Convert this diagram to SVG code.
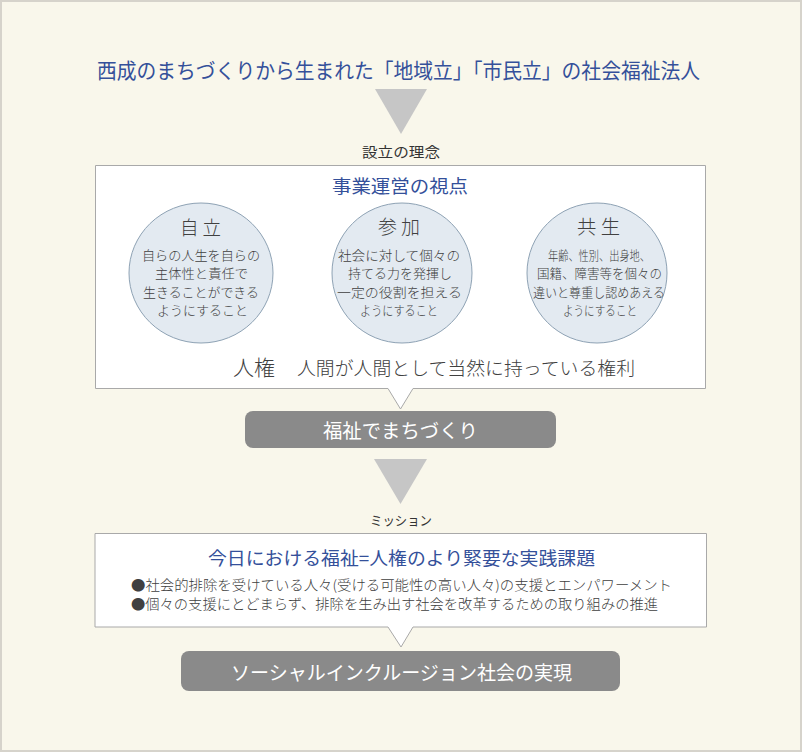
<svg xmlns="http://www.w3.org/2000/svg" width="802" height="752" viewBox="0 0 802 752">
<style>
text{font-family:"Noto Sans CJK JP","Noto Sans",sans-serif;font-weight:300;}
.blue{fill:#34509a;font-weight:400;}
.dark{fill:#404040;}
.label{fill:#333333;font-weight:400;}
.white{fill:#ffffff;font-weight:400;}
.tri{fill:#c6c6c6;}
.box{fill:#ffffff;stroke:#a9a9a9;stroke-width:1;}
.pill{fill:#8a8a8a;}
.circ{fill:#e3eaf1;stroke:#8ea2b4;stroke-width:1;}
</style>
<rect x="1" y="1" width="800" height="750" fill="#f9f7eb" stroke="#d6d3cb" stroke-width="2"/>

<g id="title">
<text class="blue" x="97" y="78" font-size="21" textLength="603" lengthAdjust="spacingAndGlyphs">西成のまちづくりから生まれた「地域立」「市民立」の社会福祉法人</text>
</g>

<g id="connectors">
<polygon class="tri" points="375,89 427,89 401,134"/>
<polygon class="tri" points="374,459 427,459 400.5,504"/>
</g>

<g id="label-setsuritsu">
<text class="label" x="362" y="157" font-size="14" textLength="78" lengthAdjust="spacingAndGlyphs">設立の理念</text>
</g>

<g id="philosophy">
<path class="box" d="M95.5,165.5 H705.5 V388.5 H413 L400.5,409 L388,388.5 H95.5 Z"/>
<text class="blue" x="332" y="193" font-size="18" textLength="136" lengthAdjust="spacingAndGlyphs">事業運営の視点</text>
</g>

<g id="jiritsu">
<ellipse class="circ" cx="201" cy="273" rx="72" ry="70"/>
<text class="dark" x="180" y="235" font-size="19" textLength="41" lengthAdjust="spacingAndGlyphs">自 立</text>
<text class="dark" x="142" y="260" font-size="13" textLength="118" lengthAdjust="spacingAndGlyphs">自らの人生を自らの</text>
<text class="dark" x="155" y="278" font-size="13" textLength="93" lengthAdjust="spacingAndGlyphs">主体性と責任で</text>
<text class="dark" x="143" y="297" font-size="13" textLength="116" lengthAdjust="spacingAndGlyphs">生きることができる</text>
<text class="dark" x="157" y="315" font-size="13" textLength="91" lengthAdjust="spacingAndGlyphs">ようにすること</text>
</g>

<g id="sanka">
<circle class="circ" cx="402" cy="273" r="70"/>
<text class="dark" x="378" y="234" font-size="19" textLength="42" lengthAdjust="spacingAndGlyphs">参 加</text>
<text class="dark" x="338" y="260" font-size="13" textLength="122" lengthAdjust="spacingAndGlyphs">社会に対して個々の</text>
<text class="dark" x="348" y="278" font-size="13" textLength="104" lengthAdjust="spacingAndGlyphs">持てる力を発揮し</text>
<text class="dark" x="337" y="297" font-size="13" textLength="125" lengthAdjust="spacingAndGlyphs">一定の役割を担える</text>
<text class="dark" x="360" y="315" font-size="13" textLength="78" lengthAdjust="spacingAndGlyphs">ようにすること</text>
</g>

<g id="kyosei">
<circle class="circ" cx="597" cy="273" r="70"/>
<text class="dark" x="577" y="234" font-size="19" textLength="43" lengthAdjust="spacingAndGlyphs">共 生</text>
<text class="dark" x="548" y="260" font-size="13" textLength="102" lengthAdjust="spacingAndGlyphs">年齢、性別、出身地、</text>
<text class="dark" x="537" y="278" font-size="13" textLength="125" lengthAdjust="spacingAndGlyphs">国籍、障害等を個々の</text>
<text class="dark" x="533" y="297" font-size="13" textLength="132" lengthAdjust="spacingAndGlyphs">違いと尊重し認めあえる</text>
<text class="dark" x="563" y="315" font-size="13" textLength="74" lengthAdjust="spacingAndGlyphs">ようにすること</text>
</g>

<g id="jinken">
<text class="dark" x="233" y="375" font-size="21" textLength="42" lengthAdjust="spacingAndGlyphs">人権</text>
<text class="dark" x="297" y="375" font-size="18.5" textLength="338" lengthAdjust="spacingAndGlyphs">人間が人間として当然に持っている権利</text>
</g>

<g id="fukushi-machizukuri">
<rect class="pill" x="245" y="411" width="311" height="37" rx="8"/>
<text class="white" x="323" y="438" font-size="19.5" textLength="155" lengthAdjust="spacingAndGlyphs">福祉でまちづくり</text>
</g>

<g id="label-mission">
<text class="label" x="370" y="525" font-size="13" textLength="62" lengthAdjust="spacingAndGlyphs">ミッション</text>
</g>

<g id="mission">
<path class="box" d="M95,533.5 H706.5 V627 H413 L401,647 L388,627 H95 Z"/>
<text class="blue" x="208" y="565" font-size="18" textLength="387" lengthAdjust="spacingAndGlyphs">今日における福祉=人権のより緊要な実践課題</text>
<text class="dark" x="131" y="590" font-size="14" textLength="541" lengthAdjust="spacingAndGlyphs">●社会的排除を受けている人々(受ける可能性の高い人々)の支援とエンパワーメント</text>
<text class="dark" x="131" y="609" font-size="14" textLength="527" lengthAdjust="spacingAndGlyphs">●個々の支援にとどまらず、排除を生み出す社会を改革するための取り組みの推進</text>
</g>

<g id="social-inclusion">
<rect class="pill" x="181" y="651" width="439" height="40" rx="8"/>
<text class="white" x="231" y="680" font-size="19.5" textLength="341" lengthAdjust="spacingAndGlyphs">ソーシャルインクルージョン社会の実現</text>
</g>
</svg>
